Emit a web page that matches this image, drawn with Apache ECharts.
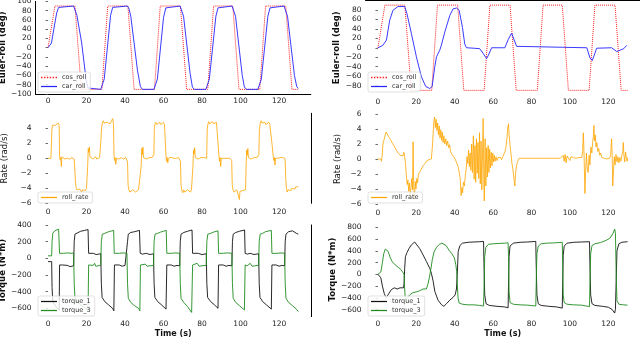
<!DOCTYPE html>
<html>
<head>
<meta charset="utf-8">
<script src="https://cdn.jsdelivr.net/npm/echarts@6/dist/echarts.min.js"></script>
<style>
  html, body { margin: 0; padding: 0; background: #fff; }
  #chart { width: 640px; height: 338px; }
</style>
</head>
<body>
<div id="chart"></div>
<script>
// x ticks shared by all panels
const timeTicks = [0, 20, 40, 60, 80, 100, 120];

// reference roll command (same in both runs)
const cosRoll = [[0,0],[0.7,0],[3.6,90],[14,90],[17.3,-90],[28,-90],[31,90],[41.5,90],[44.7,-90],[55.3,-90],[58.3,90],[68.8,90],[72,-90],[83,-90],[86,90],[96,90],[99.2,-90],[110,-90],[113,90],[123.5,90],[126.7,-90],[130,-90]];

// left run: measured roll
const carRollL = [[0,0],[1,0],[1.8,10],[3,40],[4.5,75],[5.5,87],[6.5,90],[13.3,90],[14,86],[15,70],[17.5,10],[19.8,-70],[20.8,-87],[21.6,-90],[27.4,-90],[28.2,-86],[29.2,-68],[32.5,70],[33.6,87],[34.5,90],[41.2,90],[42,85],[43,68],[46.5,-50],[48,-84],[49,-90],[55,-90],[55.8,-86],[56.8,-68],[60,65],[61.2,86],[62.2,90],[68.6,90],[69.4,86],[70.4,68],[73.8,-55],[75,-85],[76,-90],[82,-90],[82.8,-86],[83.8,-68],[87.2,68],[88.3,86],[89.3,90],[95.6,90],[96.4,86],[97.4,68],[100.9,-60],[102,-85],[103,-90],[109,-90],[109.8,-86],[110.8,-68],[114.2,68],[115.3,86],[116.3,90],[122.6,90],[123.4,86],[124.4,68],[128,-60],[129.2,-84],[130,-88]];

// right run: measured roll
const carRollR = [[0,0],[1,0],[2.5,5],[4.4,16],[6.1,58],[7.8,79],[10.4,87],[13.9,87],[15.1,72],[17.4,30],[20,-19],[22.6,-61],[24.9,-82],[27,-86],[28.2,-82],[29.6,-40],[30.5,-19],[32.2,-5],[33,5],[34.8,33],[37.4,68],[39.1,82],[40.9,84],[42.3,79],[44,43],[45.2,8],[46.1,0],[50,-1],[53,-2],[54.8,-12],[56.6,-23],[57.5,-16],[59.2,0],[66.1,0],[67.8,17],[69.6,31],[70.4,28],[72.2,3],[73,0],[96,1],[96.5,3],[97,0],[108.8,0],[110.4,-21],[111.6,-27],[113,-12],[113.9,-1],[121.7,0],[122.6,-3],[124.4,-8],[126.2,-5],[128,-2],[129.6,5]];

// roll rate, left run
const rateL = [[0,0],[1.5,0],[1.8,2],[2,3.8],[2.3,4.4],[2.8,4.3],[3.3,4.6],[3.8,4.4],[4.3,4.6],[4.8,4.5],[5.3,4.7],[5.8,4.4],[6,0.3],[6.3,-0.2],[6.6,0.1],[6.9,-1.1],[7.2,0.2],[7.6,0],[8.2,0.1],[8.8,-0.1],[9.4,0.1],[10,0],[10.6,0.1],[11.2,-0.1],[11.8,0],[12.4,0.1],[13,0],[13.6,-0.1],[14,-0.3],[14.3,-3.2],[14.6,-3.9],[15,-4.2],[15.5,-4],[16,-4.4],[16.5,-4.1],[17,-4.3],[17.5,-4.5],[18,-4.2],[18.5,-4.4],[19,-4.1],[19.5,-4.3],[20,-4],[20.4,-4.2],[20.6,-1],[20.9,1.3],[21.2,0.8],[21.5,1.5],[21.8,0.2],[22.3,0],[22.8,0.1],[23.3,-0.1],[23.8,0.1],[24.3,0],[24.8,0.2],[25.3,-0.1],[25.8,0.1],[26.3,0],[26.8,0.1],[27.2,0],[27.5,2.5],[27.8,4.1],[28.2,4.7],[28.7,5],[29.2,4.7],[29.7,4.9],[30.2,4.6],[30.7,4.8],[31.2,4.7],[31.7,4.9],[32.2,4.6],[32.7,4.8],[33.2,4.7],[33.6,5.3],[34,4.6],[34.3,0.3],[34.6,-0.3],[34.9,0.1],[35.2,-0.8],[35.6,0],[36.2,0.1],[36.8,-0.1],[37.4,0],[38,0.1],[38.6,0],[39.2,-0.1],[39.8,0],[40.4,0.1],[41,0],[41.3,-0.5],[41.6,-3.6],[42,-4.2],[42.5,-4.5],[43,-4.3],[43.5,-4.6],[44,-4.2],[44.5,-4.4],[45,-4.1],[45.5,-4.5],[46,-4.3],[46.5,-4.6],[47,-4.2],[47.5,-4.4],[48,-4.1],[48.4,-1],[48.7,1.3],[49,0.5],[49.3,1.5],[49.6,0.1],[50.1,0],[50.6,0.1],[51.1,-0.1],[51.6,0.1],[52.1,0],[52.6,0.1],[53.1,0],[53.6,-0.1],[54.1,0.1],[54.6,0],[55,0.5],[55.2,3.8],[55.5,4.5],[56,4.8],[56.5,4.5],[57,4.7],[57.5,4.6],[58,4.8],[58.5,4.5],[59,4.7],[59.5,4.6],[60,4.8],[60.5,4.5],[61,4.6],[61.3,0.2],[61.6,-0.4],[61.9,0.1],[62.2,-0.6],[62.5,-0.2],[63,0.1],[63.6,0],[64.2,0.1],[64.8,-0.1],[65.4,0],[66,0.1],[66.6,0],[67.2,-0.1],[67.8,0.1],[68.4,0],[68.8,-0.4],[69.1,-3.6],[69.5,-4.3],[70,-4.6],[70.5,-4.2],[71,-4.5],[71.5,-4.3],[72,-4.7],[72.5,-4.2],[73,-4.4],[73.5,-4.1],[74,-4.5],[74.5,-4.2],[75,-4.3],[75.3,-1],[75.6,1.1],[75.9,0.6],[76.2,1.4],[76.5,0.1],[77,0],[77.5,0.1],[78,-0.1],[78.5,0.1],[79,0],[79.5,0.1],[80,-0.1],[80.5,0],[81,0.1],[81.5,0],[82,0.1],[82.4,0],[82.7,3.8],[83,4.5],[83.5,4.9],[84,4.6],[84.5,4.8],[85,4.5],[85.5,4.9],[86,4.6],[86.5,4.7],[87,4.5],[87.5,4.8],[88,4.6],[88.5,4.7],[88.8,0.3],[89.1,-0.4],[89.4,0.1],[89.7,-1.1],[90,0],[90.5,-0.1],[91,0.1],[91.5,0],[92,-0.1],[92.5,0.1],[93,0],[93.5,0.1],[94,-0.1],[94.5,0],[95,0.1],[95.4,-0.3],[95.7,-3.5],[96.1,-4.2],[96.6,-4.5],[97.1,-4.3],[97.6,-4.6],[98.1,-4.2],[98.6,-4.4],[99.1,-4.3],[99.4,-5.5],[99.7,-4.4],[100.2,-4.2],[100.7,-4.5],[101.2,-4.3],[101.7,-4.1],[102.2,-4.4],[102.6,-4.2],[102.9,-1],[103.2,1.1],[103.5,0.4],[103.8,1.3],[104.1,0.1],[104.6,0],[105.1,0.1],[105.6,-0.1],[106.1,0.1],[106.6,0],[107.1,0.1],[107.6,-0.1],[108.1,0],[108.6,0.1],[109.1,0],[109.5,0.5],[109.8,3.8],[110.2,4.6],[110.7,5],[111.2,4.7],[111.7,4.9],[112.2,4.6],[112.7,4.8],[113.2,4.5],[113.7,4.7],[114.2,4.6],[114.7,4.8],[115.2,4.5],[115.7,4.7],[116.2,4.6],[116.4,1.8],[116.7,1.6],[117,0.2],[117.3,-0.3],[117.6,0.1],[117.9,-0.9],[118.2,0],[118.8,0.1],[119.4,0],[120,-0.1],[120.6,0.1],[121.2,0],[121.8,0.1],[122.4,-0.1],[123,0],[123.2,-0.5],[123.5,-2.8],[123.8,-3.9],[124.2,-4.5],[124.7,-4.2],[125.2,-4.4],[125.7,-4.1],[126.2,-4.3],[126.7,-4],[127.2,-4.2],[127.7,-3.9],[128.2,-4.1],[128.7,-3.8],[129.2,-4],[129.7,-3.7],[130,-3.8]];

// roll rate, right run
const rateR = [[0,0],[1.5,0],[1.8,-0.3],[2.2,0.5],[2.6,2],[3.2,2.6],[3.8,3.3],[4.2,3.6],[4.8,3.4],[5.5,3],[6.5,2.6],[7.5,2.1],[8.5,1.7],[9.5,1.2],[10.5,0.8],[11.5,0.5],[12.3,0.3],[13,0.4],[13.5,0.9],[13.9,0.3],[14.3,-0.5],[14.8,-2.2],[15.2,-3.4],[15.6,-2.8],[16,-4.3],[16.4,-3.2],[16.8,-4.9],[17.2,-3.8],[17.6,-2.6],[18,-4.1],[18.3,2.3],[18.6,-3.5],[19,-5.3],[19.4,-3],[19.8,-4],[20.2,-2.6],[20.6,-3.2],[21,-2.2],[21.5,-1.8],[22.5,-1.4],[23.5,-0.9],[24.5,-0.6],[25.5,-0.2],[26,0],[27.8,0],[28.3,1.5],[28.7,3.2],[29.1,5],[29.5,5.6],[29.9,4.2],[30.3,5.3],[30.7,3.8],[31.1,4.8],[31.5,3.2],[31.9,4.4],[32.3,2.8],[32.7,3.9],[33.1,2.5],[33.5,3.6],[33.9,2.2],[34.3,3.1],[34.8,2],[35.3,2.7],[35.8,1.8],[36.3,2.4],[36.8,1.5],[37.3,1.9],[37.8,1],[38.3,0.9],[38.8,0.5],[39.5,0.3],[40.2,0],[41,-0.2],[41.6,-0.9],[42.2,-1.6],[42.8,-2.5],[43.3,-4.9],[43.7,-3.8],[44.1,-4.5],[44.5,-3.1],[45,-3.6],[45.5,-2.2],[46,-1.2],[46.4,0.3],[46.8,-0.6],[47.2,1.2],[47.6,-1],[48,0.8],[48.4,-1.5],[48.8,2],[49.2,-1.8],[49.7,3.1],[50.1,-2.7],[50.5,1.8],[50.9,-3.1],[51.3,2.7],[51.7,-1.9],[52.1,2.2],[52.5,-2.6],[52.9,3.5],[53.3,-3.3],[53.7,2.4],[54.1,-4.1],[54.5,1.2],[54.8,5.4],[55.1,-2.8],[55.4,-5.6],[55.8,2.7],[56.2,-3.6],[56.6,1.5],[57,-2.4],[57.4,1.8],[57.8,-1.8],[58.2,1.3],[58.6,-1.2],[59,0.9],[59.4,-0.9],[59.8,0.8],[60.2,-0.4],[60.6,0.5],[61,-0.3],[61.5,0.3],[62,-0.2],[62.6,0.2],[63.2,0],[63.8,0.2],[64.4,-0.1],[65,0.3],[65.6,0.5],[66.2,1],[66.7,1.6],[67.2,2.8],[67.6,4.1],[68,4.7],[68.3,3.2],[68.6,2.4],[69,1.3],[69.4,0.4],[69.8,-0.6],[70.2,-1.2],[70.6,-2],[71,-3],[71.3,-3.6],[71.6,-2.2],[72,-1.2],[72.5,-0.5],[73,-0.2],[73.6,0.1],[74.2,0],[75,0.1],[76,0],[77,0.1],[78,-0.1],[79,0.1],[80,0],[81,0.1],[82,0],[83,0.1],[84,-0.1],[85,0.1],[86,0],[87,0.1],[88,0],[89,0.1],[90,-0.1],[91,0.1],[92,0],[93,0.1],[94,0],[95,0.1],[96,0.2],[96.5,0.5],[97,-0.3],[97.5,0.6],[98,-0.5],[98.5,0.4],[99,0.2],[99.5,0.5],[100,-0.2],[100.6,0.3],[101.2,0.1],[101.8,0.2],[102.4,0],[103,0.1],[104,0.1],[105,0.2],[105.6,0.4],[106.2,0.2],[106.6,1],[107,3.5],[107.4,0.2],[107.8,-4.6],[108.2,-1.5],[108.6,0.8],[109,-1.2],[109.5,-1.8],[110,0.5],[110.4,-0.8],[110.9,1.6],[111.4,0.8],[111.9,2.4],[112.2,3],[112.5,4.5],[112.8,2.4],[113.2,3.2],[113.6,1.6],[114,2.2],[114.5,1],[115,1.4],[115.5,0.5],[116,0.8],[116.6,0.2],[117.2,0.4],[117.8,0.1],[118.5,0.2],[119.2,0],[119.9,0.2],[120.6,0.1],[121.2,0.5],[121.7,2.7],[122,0.5],[122.3,-3.6],[122.7,-1.6],[123.1,0.3],[123.5,-0.8],[124,0.6],[124.5,-0.4],[125,0.3],[125.5,-0.5],[126,0.2],[126.5,-0.3],[127,0.4],[127.5,1],[127.8,2.2],[128.1,0.6],[128.5,-0.4],[129,0.9],[129.4,0.1],[129.8,-0.3],[130,0.2]];

// torques, left run
const torque1L = [[0,-40],[1.9,-40],[2.1,-350],[2.5,-520],[3.5,-560],[4.5,-590],[5.8,-620],[6,-80],[6.6,-100],[7.5,-80],[8.5,-95],[10,-85],[11.5,-100],[13.3,-90],[13.6,200],[14,290],[15,310],[17,325],[19,335],[20.8,345],[21.1,60],[22,50],[23.5,60],[25,45],[27.4,55],[27.7,-300],[28.1,-470],[29.5,-520],[31.5,-560],[33.5,-600],[34.2,-630],[34.5,-80],[35.5,-100],[37,-80],[38.5,-95],[40,-85],[41,-90],[41.3,200],[41.7,290],[43,310],[45,320],[47.5,335],[47.9,60],[49,50],[51,60],[53,45],[54.8,55],[55.1,-300],[55.5,-470],[57,-520],[59,-560],[61.3,-610],[61.7,-80],[62.5,-100],[64,-80],[65.5,-95],[67,-85],[68.4,-90],[68.7,200],[69.1,290],[70.5,310],[72.5,325],[74.8,340],[75.1,60],[76,50],[78,60],[80,45],[82.2,55],[82.5,-300],[82.9,-470],[84.5,-520],[86.5,-560],[88.3,-600],[88.6,-80],[89.5,-100],[91,-80],[92.5,-95],[94,-85],[95.5,-90],[95.8,200],[96.2,290],[97.5,310],[99.5,325],[102.1,340],[102.4,60],[103.5,50],[105,60],[107,45],[109.4,55],[109.7,-300],[110.1,-470],[111.5,-520],[113.5,-560],[116,-610],[116.3,-80],[117,-100],[118.5,-80],[120,-95],[121.5,-85],[122.9,-90],[123.2,200],[123.6,290],[125,320],[127,330],[128,335],[129,300],[130,290]];
const torque3L = [[0,30],[1.9,30],[2.1,200],[2.5,300],[3.5,330],[4.5,345],[5.5,350],[5.8,330],[6,60],[6.5,70],[8,60],[10,65],[12,60],[13.3,65],[13.6,-300],[14,-470],[15,-520],[17,-560],[19,-590],[20.8,-625],[21.1,-80],[22,-90],[23.5,-85],[24.2,-60],[24.8,-95],[26,-90],[27.4,-85],[27.7,200],[28.2,290],[29.5,300],[31,315],[32.5,325],[34.1,335],[34.4,60],[35,70],[37,60],[39,65],[41,60],[41.3,-300],[41.7,-480],[43,-530],[45,-570],[47,-600],[47.7,-630],[48,-80],[49,-90],[50.5,-70],[51.5,-95],[53,-90],[54.8,-85],[55.1,200],[55.6,290],[57,300],[58.5,315],[60,325],[61.4,335],[61.7,60],[62.5,70],[64,60],[66,65],[68.4,60],[68.7,-300],[69.1,-480],[70.5,-530],[72.5,-580],[74.6,-650],[75.1,-80],[76,-90],[77.5,-60],[78.5,-95],[80,-90],[82.2,-85],[82.5,200],[83,290],[84.5,300],[86,315],[88.3,330],[88.6,60],[89.5,70],[91,60],[93,65],[95.5,60],[95.8,-300],[96.2,-480],[97.5,-530],[99.5,-570],[102,-620],[102.4,-80],[103.5,-90],[105,-60],[106,-95],[107.5,-90],[109.4,-85],[109.7,200],[110.2,290],[111.5,300],[113,320],[116,335],[116.3,60],[117,70],[119,60],[121,65],[122.9,60],[123.2,-300],[123.6,-480],[125,-530],[127,-570],[129,-610],[130,-640]];

// torques, right run
const torque1R = [[0,0],[1,0],[1.5,-60],[2.3,-200],[3.3,-330],[4.3,-400],[5,-390],[5.8,-320],[7,-260],[8.5,-230],[10,-250],[11.5,-230],[12.5,-210],[13.3,-230],[13.6,-150],[13.9,100],[14.3,300],[15.1,370],[16.2,440],[17.4,500],[18.3,530],[19.1,550],[20,530],[21.7,440],[23.5,330],[25.2,220],[26.1,160],[27,100],[27.8,20],[28.7,-110],[29.6,-290],[31.3,-440],[33,-515],[34.3,-545],[35.7,-500],[37.4,-440],[39.2,-390],[40.2,-350],[40.9,-250],[41.3,0],[41.8,390],[42.7,490],[44,530],[47,545],[50,550],[53,555],[55,560],[55.2,200],[55.6,-350],[56.3,-500],[58,-530],[62,-545],[66,-555],[67.8,-570],[68,-200],[68.3,300],[68.8,480],[70.5,530],[74,545],[78,550],[82.2,560],[82.4,200],[82.8,-350],[83.5,-500],[85,-530],[89,-545],[93,-555],[96,-575],[96.2,-200],[96.5,320],[97,480],[98.5,530],[102,545],[106,550],[110.2,555],[110.4,200],[110.8,-350],[111.5,-500],[113,-530],[117,-545],[120,-560],[122,-600],[123.3,-660],[123.7,-600],[124.1,-100],[124.5,400],[125.5,520],[127,545],[130,555]];
const torque3R = [[0,0],[1,0],[1.5,40],[2.3,200],[3,350],[3.8,430],[4.5,440],[5.3,390],[6.3,290],[7.5,210],[9,160],[10.5,120],[12,80],[13,50],[13.6,0],[13.9,-250],[14.3,-450],[14.8,-470],[15.5,-400],[16.5,-350],[18.3,-310],[20,-300],[21.7,-280],[23.5,-250],[25.2,-250],[26,-170],[26.8,-50],[27.5,80],[28.3,250],[29.2,380],[30.5,460],[32,510],[33.3,530],[34.3,540],[35.5,490],[37,410],[38.5,350],[39.8,280],[40.5,170],[41,50],[41.3,-150],[41.7,-400],[42.3,-490],[44,-510],[47,-520],[50,-520],[53,-530],[55,-540],[55.2,-300],[55.6,300],[56.2,460],[57.5,510],[60,520],[63,525],[66,530],[67.8,535],[68,300],[68.3,-300],[68.8,-480],[70.5,-510],[74,-520],[78,-525],[82.2,-540],[82.4,-200],[82.8,350],[83.5,480],[85,520],[88,530],[92,535],[96,545],[96.2,200],[96.5,-350],[97,-480],[98.5,-510],[102,-520],[106,-525],[110.2,-550],[110.4,-200],[110.8,350],[111.5,490],[113,520],[116,540],[119,580],[121,620],[122.5,700],[123.3,770],[123.7,700],[124.1,0],[124.5,-450],[125.5,-510],[128,-520],[130,-525]];

const eulerTicksL = [-100,-80,-60,-40,-20,0,20,40,60,80,100];
const eulerTicksR = [-80,-60,-40,-20,0,20,40,60,80];
const rateTicksL = [-6,-4,-2,0,2,4];
const rateTicksR = [-6,-4,-2,0,2,4,6];
const torqueTicksL = [-600,-400,-200,0,200,400];
const torqueTicksR = [-600,-400,-200,0,200,400,600,800];

const FONT = 'DejaVu Sans';
const fmt = v => (v < 0 ? '\u2212' + (-v) : '' + v);
// legend icons: a plain stroke and a dotted stroke
const ICON_SOLID = 'path://M0,0h18v1.4h-18z';
const ICON_DOTTED = 'path://M0,0h1.6v1.4h-1.6zM3.2,0h1.6v1.4h-1.6zM6.4,0h1.6v1.4h-1.6zM9.6,0h1.6v1.4h-1.6zM12.8,0h1.6v1.4h-1.6zM16,0h1.6v1.4h-1.6z';

const myChart = echarts.init(document.getElementById('chart'), null, { renderer: 'canvas' });

const grids = [
  { left: 35.5, top: 1.4, width: 275.3, height: 92.6 },
  { left: 365.5, top: 0.4, width: 274.5, height: 94.7 },
  { left: 35.5, top: 113.3, width: 275.3, height: 90 },
  { left: 365.5, top: 114, width: 274.5, height: 90 },
  { left: 35.5, top: 225, width: 275.3, height: 91.6 },
  { left: 365.5, top: 222.6, width: 274.5, height: 94 }
].map(g => Object.assign({ containLabel: false, outerBoundsMode: 'none' }, g));

function xAx(gi, margin, withName) {
  return {
    type: 'value', gridIndex: gi, min: -6.5, max: 136.5,
    axisLine: { show: false }, axisTick: { show: false }, splitLine: { show: false },
    axisLabel: { customValues: timeTicks, margin: margin, fontFamily: FONT, fontSize: 7.5, color: '#222' },
    name: withName ? 'Time (s)' : '', nameLocation: 'middle', nameGap: 13,
    nameTextStyle: { fontFamily: FONT, fontSize: 8, fontWeight: 'bold', color: '#111' }
  };
}
function yAx(gi, min, max, ticks, name, gap, bold) {
  return {
    type: 'value', gridIndex: gi, min: min, max: max,
    axisLine: { show: false },
    axisTick: { show: true, customValues: ticks, length: 2.5, lineStyle: { color: '#444', width: 0.8 } },
    splitLine: { show: false },
    axisLabel: { customValues: ticks, margin: 4, formatter: fmt, fontFamily: FONT, fontSize: 7.5, color: '#222' },
    name: name, nameLocation: 'middle', nameGap: gap,
    nameTextStyle: { fontFamily: FONT, fontSize: 8.5, fontWeight: bold ? 'bold' : 'normal', color: '#111' }
  };
}
// visible pieces of the matplotlib frame
function topSpine(gi) {
  return { type: 'value', gridIndex: gi, position: 'top', min: 0, max: 1,
    axisLine: { show: true, lineStyle: { color: '#000', width: 1 } },
    axisTick: { show: false }, axisLabel: { show: false }, splitLine: { show: false } };
}
function rightSpine(gi) {
  return { type: 'value', gridIndex: gi, position: 'right', min: 0, max: 1,
    axisLine: { show: true, lineStyle: { color: '#000', width: 1 } },
    axisTick: { show: false }, axisLabel: { show: false }, splitLine: { show: false } };
}

function line(name, data, xi, color, width, type) {
  return {
    type: 'line', name: name, data: data, xAxisIndex: xi, yAxisIndex: xi,
    symbol: 'none', showSymbol: false, animation: false, silent: true,
    lineStyle: { color: color, width: width, type: type || 'solid' },
    itemStyle: { color: color }
  };
}

function legend(items, left, top) {
  return {
    data: items, left: left, top: top, orient: 'vertical',
    itemWidth: 16, itemHeight: 1.4, itemGap: 2, padding: [2, 4, 2, 3],
    backgroundColor: 'rgba(255,255,255,0.8)', borderColor: '#ccc', borderWidth: 0.6, borderRadius: 2,
    textStyle: { fontFamily: FONT, fontSize: 6.5, color: '#333' },
    selectedMode: false
  };
}

const option = {
  backgroundColor: '#fff',
  animation: false,
  grid: grids,
  xAxis: [xAx(0, 3, false), xAx(1, 3, false), xAx(2, 5, false), xAx(3, 5, false), xAx(4, 3, true), xAx(5, 3, true),
    topSpine(0), topSpine(1)],
  yAxis: [
    yAx(0, -100, 100, eulerTicksL, 'Euler-roll (deg)', 23, true),
    yAx(1, -100, 100, eulerTicksR, 'Euler-roll (deg)', 23, true),
    yAx(2, -6, 6, rateTicksL, 'Rate (rad/s)', 26, false),
    yAx(3, -6, 6, rateTicksR, 'Rate (rad/s)', 23, false),
    yAx(4, -700, 400, torqueTicksL, 'Torque (N*m)', 24, true),
    yAx(5, -720, 880, torqueTicksR, 'Torque (N*m)', 23, true),
    rightSpine(0), rightSpine(2), rightSpine(4)
  ],
  legend: [
    legend([{ name: 'cos_roll', icon: ICON_DOTTED }, { name: 'car_roll', icon: ICON_SOLID }], 38, 72),
    legend([{ name: 'cos_roll', icon: ICON_DOTTED }, { name: 'car_roll', icon: ICON_SOLID }], 368, 72),
    legend([{ name: 'roll_rate', icon: ICON_SOLID }], 38, 192),
    legend([{ name: 'roll_rate', icon: ICON_SOLID }], 368, 192),
    legend([{ name: 'torque_1', icon: ICON_SOLID }, { name: 'torque_3', icon: ICON_SOLID }], 38, 296),
    legend([{ name: 'torque_1', icon: ICON_SOLID }, { name: 'torque_3', icon: ICON_SOLID }], 368, 296)
  ],
  series: [
    line('cos_roll', cosRoll, 0, '#ff2020', 1, 'dotted'),
    line('car_roll', carRollL, 0, '#2424ff', 0.9),
    line('cos_roll', cosRoll, 1, '#ff2020', 1, 'dotted'),
    line('car_roll', carRollR, 1, '#2424ff', 0.9),
    line('roll_rate', rateL, 2, '#ffa500', 0.8),
    line('roll_rate', rateR, 3, '#ffa500', 0.8),
    line('torque_1', torque1L, 4, '#111111', 0.9),
    line('torque_3', torque3L, 4, '#1e8c1e', 0.9),
    line('torque_1', torque1R, 5, '#111111', 0.9),
    line('torque_3', torque3R, 5, '#1e8c1e', 0.9)
  ]
};

myChart.setOption(option);
</script>
</body>
</html>
